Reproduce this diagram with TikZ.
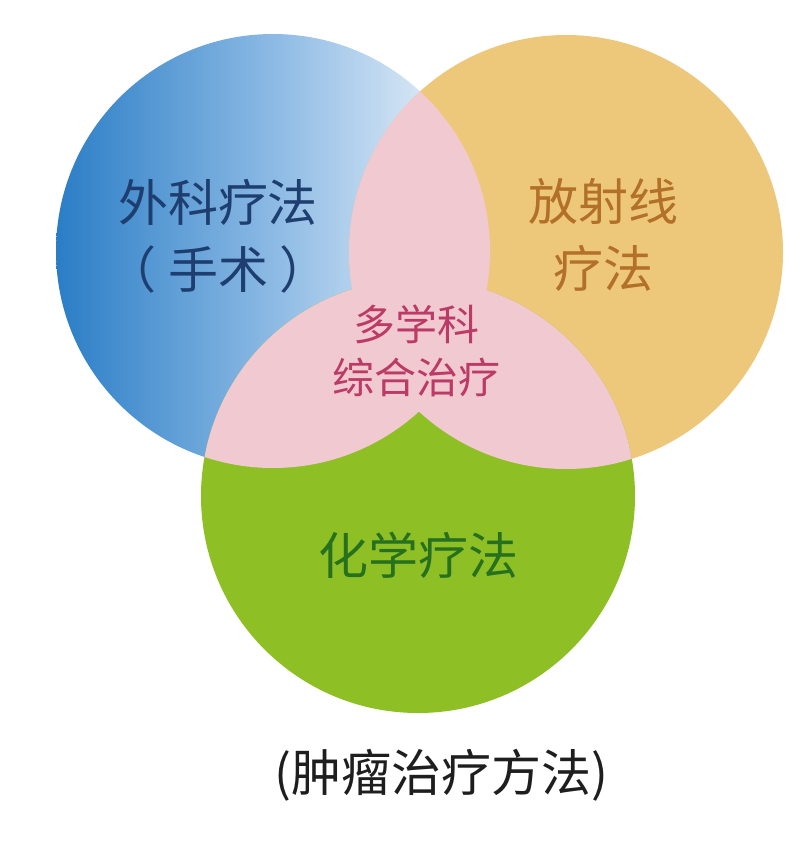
\documentclass[tikz,border=0pt]{standalone}
\usepackage{fontspec}
\setmainfont{Noto Sans CJK SC}
\definecolor{surgdark}{RGB}{42,125,198}
\definecolor{surgmid}{RGB}{140,186,228}
\definecolor{surglight}{RGB}{246,249,253}
\definecolor{radiofill}{RGB}{238,200,122}
\definecolor{chemofill}{RGB}{142,192,38}
\definecolor{multifill}{RGB}{240,201,209}
\definecolor{surgtext}{RGB}{30,62,112}
\definecolor{radiotext}{RGB}{178,112,42}
\definecolor{multitext}{RGB}{188,58,102}
\definecolor{chemotext}{RGB}{38,112,30}
\definecolor{captext}{RGB}{30,30,30}
\begin{document}
\begin{tikzpicture}[x=1pt,y=-1pt,
  maintxt/.style={align=center,font=\fontsize{50}{67}\selectfont},
  centertxt/.style={align=center,font=\fontsize{42}{53}\selectfont}]
\useasboundingbox (0,0) rectangle (800,844);
\fill[white] (0,0) rectangle (800,844);
\coordinate (surg) at (273,251);
\coordinate (radio) at (566,252);
\coordinate (chemo) at (418,496);
% the three methods
\shade[left color=surgdark, right color=surglight, middle color=surgmid] (surg) circle (217pt);
\fill[radiofill] (radio) circle (217pt);
\fill[chemofill] (chemo) circle (217pt);
% overlaps
\begin{scope}
\clip (surg) circle (217pt);
\fill[multifill] (radio) circle (217pt);
\fill[multifill] (chemo) circle (217pt);
\end{scope}
\begin{scope}
\clip (radio) circle (217pt);
\fill[multifill] (chemo) circle (217pt);
\end{scope}
\node[maintxt, text=surgtext] (surgname) at (218,236) {外科疗法\\（\hspace{12pt}手术\hspace{12pt}）};
\node[maintxt, text=radiotext] (radioname) at (603,235) {放射线\\疗法};
\node[centertxt, text=multitext] (multiname) at (416,351) {多学科\\综合治疗};
\node[maintxt, text=chemotext] (chemoname) at (418,555) {化学疗法};
\node[maintxt, text=captext] (caption) at (441,775) {(肿瘤治疗方法)};
\end{tikzpicture}
\end{document}
